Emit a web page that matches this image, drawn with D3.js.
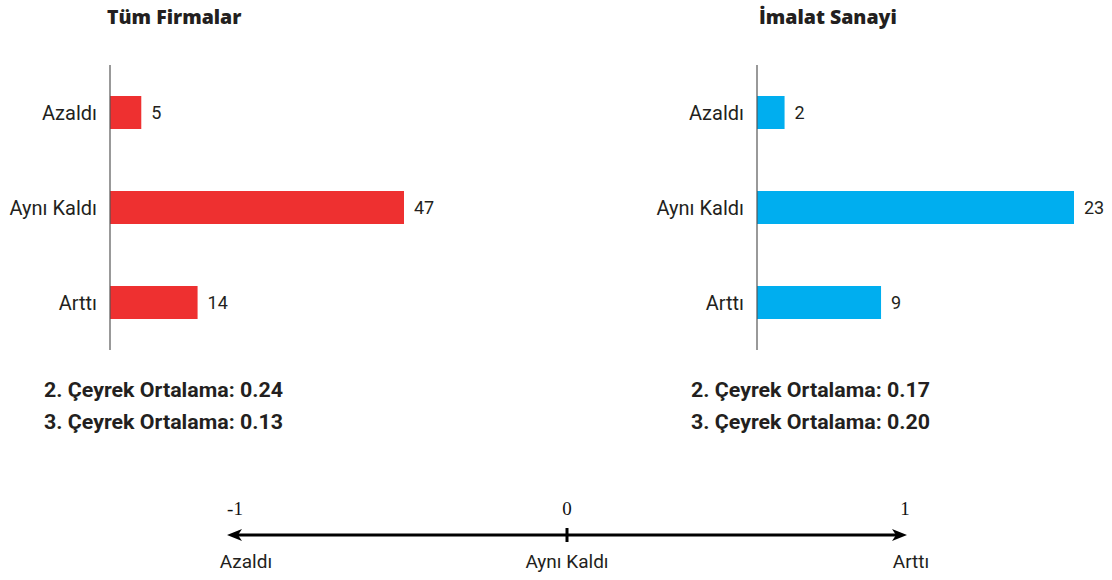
<!DOCTYPE html>
<html>
<head>
<meta charset="utf-8">
<script src="https://cdn.jsdelivr.net/npm/d3@7"></script>
<style>
  html, body { margin: 0; padding: 0; background: #fff; }
  svg { display: block; }
</style>
</head>
<body>
<svg id="chart" width="1112" height="580"></svg>
<script>
// Data
const categories = ['Azaldı', 'Aynı Kaldı', 'Arttı'];
const allFirms = [5, 47, 14];
const manufacturing = [2, 23, 9];
const panelTitles = ['Tüm Firmalar', 'İmalat Sanayi'];
const avgQ2 = ['0.24', '0.17'];
const avgQ3 = ['0.13', '0.20'];
const scaleTicks = [-1, 0, 1];
const scaleLabels = ['Azaldı', 'Aynı Kaldı', 'Arttı'];

const svg = d3.select('#chart');
const body = 'Roboto, "Noto Sans", sans-serif';
const ink = '#231f20';

const y = d3.scalePoint().domain(categories).range([65, 350]).padding(0.5);
const barH = 33;

const panels = [
  { title: panelTitles[0], values: allFirms, color: '#ee3030', x0: 110, x1: 404, titleX: 107, q2: avgQ2[0], q3: avgQ3[0] },
  { title: panelTitles[1], values: manufacturing, color: '#00aeef', x0: 757, x1: 1074, titleX: 759, q2: avgQ2[1], q3: avgQ3[1] }
];

panels.forEach(p => {
  const g = svg.append('g');
  const x = d3.scaleLinear().domain([0, d3.max(p.values)]).range([p.x0, p.x1]);

  // Title
  g.append('text')
    .attr('x', p.titleX).attr('y', 24)
    .attr('font-family', '"Open Sans", sans-serif').attr('font-weight', 800)
    .attr('font-size', 19.5).attr('fill', ink)
    .text(p.title);

  // Bars
  g.selectAll('rect').data(p.values).join('rect')
    .attr('x', x(0))
    .attr('y', (d, i) => y(categories[i]) - barH / 2)
    .attr('width', d => x(d) - x(0))
    .attr('height', barH)
    .attr('fill', p.color);

  // Vertical axis line
  g.append('line')
    .attr('x1', x(0)).attr('x2', x(0)).attr('y1', 65).attr('y2', 350)
    .attr('stroke', '#555').attr('stroke-width', 1.2);

  // Category labels
  g.selectAll('.cat').data(categories).join('text')
    .attr('class', 'cat')
    .attr('x', x(0) - 13).attr('y', d => y(d)).attr('dy', '0.35em')
    .attr('text-anchor', 'end')
    .attr('font-family', body).attr('font-size', 20).attr('fill', ink)
    .text(d => d);

  // Value labels
  g.selectAll('.val').data(p.values).join('text')
    .attr('class', 'val')
    .attr('x', d => x(d) + 10)
    .attr('y', (d, i) => y(categories[i])).attr('dy', '0.35em')
    .attr('font-family', body).attr('font-size', 18).attr('fill', ink)
    .text(d => d);

  // Averages, starting under the category labels
  [['2. Çeyrek Ortalama: ' + p.q2, 397], ['3. Çeyrek Ortalama: ' + p.q3, 429]].forEach(([t, yy]) => {
    g.append('text')
      .attr('x', x(0) - 66).attr('y', yy)
      .attr('font-family', body).attr('font-weight', 700)
      .attr('font-size', 20.5).attr('fill', ink)
      .attr('textLength', 239).attr('lengthAdjust', 'spacingAndGlyphs')
      .text(t);
  });
});

// Bottom reference scale
const sx = d3.scaleLinear().domain([-1, 1]).range([227, 907]);
const axisY = 535;
svg.append('line')
  .attr('x1', sx(-1) + 8).attr('x2', sx(1) - 8)
  .attr('y1', axisY).attr('y2', axisY)
  .attr('stroke', '#000').attr('stroke-width', 3);

// Arrowheads
[[-1, 1], [1, -1]].forEach(([v, dir]) => {
  const tx = sx(v);
  svg.append('path')
    .attr('d', `M${tx},${axisY} L${tx + dir * 15},${axisY - 6} L${tx + dir * 11},${axisY} L${tx + dir * 15},${axisY + 6} Z`)
    .attr('fill', '#000');
});

// Centre tick
svg.append('line')
  .attr('x1', sx(0)).attr('x2', sx(0)).attr('y1', axisY - 7).attr('y2', axisY + 7)
  .attr('stroke', '#000').attr('stroke-width', 3);

svg.selectAll('.tickLab').data(scaleTicks).join('text')
  .attr('class', 'tickLab')
  .attr('x', d => sx(d) + (d === -1 ? 8 : d === 1 ? -2 : 0)).attr('y', 515)
  .attr('text-anchor', 'middle')
  .attr('font-family', '"Liberation Serif", "DejaVu Serif", serif')
  .attr('font-size', 19).attr('fill', '#111')
  .text(d => d);

svg.selectAll('.scaleLab').data(scaleLabels).join('text')
  .attr('class', 'scaleLab')
  .attr('x', (d, i) => sx(scaleTicks[i]) + (i === 0 ? 19 : i === 2 ? 4 : 0)).attr('y', 568)
  .attr('text-anchor', 'middle')
  .attr('font-family', body).attr('font-size', 19).attr('fill', ink)
  .text(d => d);
</script>
</body>
</html>
